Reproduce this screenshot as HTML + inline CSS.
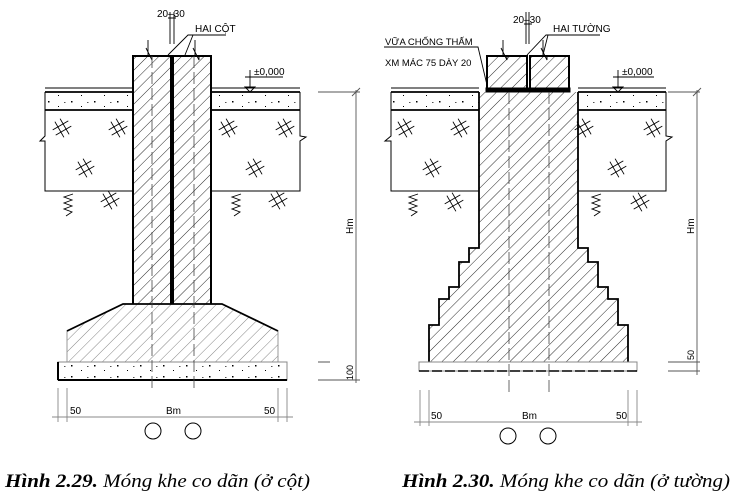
<!DOCTYPE html>
<html><head><meta charset="utf-8"><style>
html,body{margin:0;padding:0;background:#fff;width:742px;height:503px;overflow:hidden}
svg{display:block}
text{font-family:"Liberation Sans",sans-serif;fill:#000}
.cap{font-family:"Liberation Serif",serif;font-style:italic;font-size:19px}
</style></head><body>
<svg width="742" height="503" viewBox="0 0 742 503" xmlns="http://www.w3.org/2000/svg">
<defs>
<pattern id="h" width="8" height="8" patternUnits="userSpaceOnUse" patternTransform="rotate(45)">
<line x1="0" y1="0" x2="0" y2="8" stroke="#111" stroke-width="0.9"/></pattern>
<pattern id="hl" width="8" height="8" patternUnits="userSpaceOnUse" patternTransform="rotate(45)">
<line x1="0" y1="0" x2="0" y2="8" stroke="#666" stroke-width="0.8"/></pattern>
<pattern id="dots" width="23" height="11" patternUnits="userSpaceOnUse">
<rect x="2" y="2" width="1.5" height="1.5" fill="#000"/><rect x="12" y="7" width="1" height="1" fill="#000"/><rect x="18" y="3" width="1.5" height="1" fill="#555"/></pattern>
<g id="x"><g stroke="#000" stroke-width="0.9" transform="rotate(-30)">
<line x1="-9" y1="-3" x2="9" y2="-3"/><line x1="-9" y1="3" x2="9" y2="3"/>
<line x1="-3" y1="-9" x2="-3" y2="9"/><line x1="3" y1="-9" x2="3" y2="9"/></g></g>
<path id="s" d="M5 0 L-4 3 L4 6 L-4 9 L4 12 L-4 15 L4 18 L-2 22" fill="none" stroke="#000" stroke-width="0.9"/>
</defs>

<!-- ===== LEFT FIGURE ===== -->
<g stroke="#000" fill="none">
<rect x="45" y="92" width="87" height="18" fill="url(#dots)" stroke="none"/>
<line x1="45" y1="88" x2="132" y2="88"/>
<line x1="45" y1="92" x2="132" y2="92" stroke-width="1.8"/>
<line x1="45" y1="110" x2="132" y2="110" stroke-width="1.8"/>
<path d="M45 92 V136 L40 141 H45 V191 H132"/>
<rect x="212" y="92" width="88" height="18" fill="url(#dots)" stroke="none"/>
<line x1="212" y1="88" x2="300" y2="88"/>
<line x1="212" y1="92" x2="300" y2="92" stroke-width="1.8"/>
<line x1="212" y1="110" x2="300" y2="110" stroke-width="1.8"/>
<path d="M300 92 V136 L306 137 L300 141 V191 H212"/>
</g>
<use href="#x" x="62" y="128"/><use href="#x" x="118" y="128"/><use href="#x" x="85" y="168"/><use href="#x" x="110" y="200"/>
<use href="#x" x="228" y="128"/><use href="#x" x="285" y="128"/><use href="#x" x="255" y="168"/><use href="#x" x="278" y="200"/>
<use href="#s" x="68" y="194"/><use href="#s" x="236" y="194"/>
<rect x="132" y="56" width="39" height="248" fill="url(#h)"/>
<rect x="174" y="56" width="38" height="248" fill="url(#h)"/>
<g stroke="#000" fill="none">
<path d="M133 304 V56 H171 V304" stroke-width="2"/>
<path d="M173 304 V56 H211 V304" stroke-width="2"/>
<path d="M148 40 V57 M146 48 L152 60 L152 55 M195 40 V57 M193 48 L199 60 L199 55" stroke-width="0.9"/>
<path d="M123 304 H222 L278 331 V362 H67 V331 Z" fill="url(#hl)" stroke="#999"/>
<path d="M67 331 L123 304 H222 L278 331" stroke-width="1.8"/>
<rect x="58" y="362" width="229" height="18" fill="url(#dots)" stroke="#888"/>
<line x1="58" y1="380" x2="287" y2="380" stroke-width="2"/>
<line x1="58" y1="362" x2="58" y2="380" stroke-width="2"/>
<path d="M152 56 V392 M194 56 V392" stroke="#444" stroke-width="0.8" stroke-dasharray="12 4"/>
<path d="M170 12 V44 M174 12 V44 M168 18 H176" stroke-width="0.9"/>
<path d="M168 55 L188 35 H226 M185 55 L193 35" stroke-width="0.9"/>
<path d="M250 70 V87 M245 77 H283 M245 87 L250 92 L255 87 Z" stroke-width="0.9"/>
<path d="M318 92 H360 M356 90 V383 M318 362 H330 M318 380 H360 M352 96 L360 88" stroke="#555" stroke-width="0.9"/>
<path d="M58 388 V422 M67 388 V422 M278 388 V422 M287 388 V422 M52 417 H293" stroke="#888" stroke-width="0.9"/>
<circle cx="153" cy="431" r="8"/><circle cx="193" cy="431" r="8"/>
</g>
<text x="157" y="17" font-size="10">20–30</text>
<text x="195" y="32" font-size="10">HAI CỘT</text>
<text x="254" y="75" font-size="10">±0,000</text>
<text x="70" y="414" font-size="10" fill="#666">50</text>
<text x="166" y="414" font-size="10" fill="#666">Bm</text>
<text x="264" y="414" font-size="10" fill="#666">50</text>
<text transform="translate(353,234) rotate(-90)" font-size="10">Hm</text>
<text transform="translate(353,380) rotate(-90)" font-size="9">100</text>
<text class="cap" x="5" y="487" textLength="305" lengthAdjust="spacingAndGlyphs"><tspan font-weight="bold">Hình 2.29.</tspan> Móng khe co dãn (ở cột)</text>

<!-- ===== RIGHT FIGURE ===== -->
<g stroke="#000" fill="none">
<rect x="391" y="92" width="88" height="18" fill="url(#dots)" stroke="none"/>
<line x1="391" y1="88" x2="479" y2="88"/>
<line x1="391" y1="92" x2="479" y2="92" stroke-width="1.8"/>
<line x1="391" y1="110" x2="479" y2="110" stroke-width="1.8"/>
<path d="M391 92 V136 L385 141 H391 V191 H479"/>
<rect x="578" y="92" width="88" height="18" fill="url(#dots)" stroke="none"/>
<line x1="578" y1="88" x2="666" y2="88"/>
<line x1="578" y1="92" x2="666" y2="92" stroke-width="1.8"/>
<line x1="578" y1="110" x2="666" y2="110" stroke-width="1.8"/>
<path d="M666 92 V136 L672 137 L666 141 V191 H578"/>
</g>
<use href="#x" x="405" y="128"/><use href="#x" x="460" y="128"/><use href="#x" x="432" y="168"/><use href="#x" x="454" y="202"/>
<use href="#x" x="584" y="128"/><use href="#x" x="653" y="128"/><use href="#x" x="617" y="168"/><use href="#x" x="640" y="202"/>
<use href="#s" x="413" y="194"/><use href="#s" x="596" y="194"/>
<rect x="487" y="56" width="40" height="33" fill="url(#h)"/>
<rect x="530" y="56" width="39" height="33" fill="url(#h)"/>
<g stroke="#000" fill="none">
<path d="M487 89 V56 H527 V89 M530 89 V56 H569 V89" stroke-width="2"/>
<rect x="486" y="88" width="84" height="4" fill="#000"/>
<path d="M503 40 V57 M501 48 L507 60 L507 55 M543 40 V57 M541 48 L547 60 L547 55" stroke-width="0.9"/>
</g>
<path d="M479 92 H578 V248 H588 V262 H598 V287 H608 V299 H618 V325 H628 V362 H429 V325 H439 V299 H449 V287 H459 V262 H469 V248 H479 Z" fill="url(#h)" stroke="none"/>
<g stroke="#000" fill="none">
<path d="M479 92 V248 H469 V262 H459 V287 H449 V299 H439 V325 H429 V362" stroke-width="1.8"/>
<path d="M578 92 V248 H588 V262 H598 V287 H608 V299 H618 V325 H628 V362" stroke-width="1.8"/>
<rect x="419" y="362" width="218" height="9" stroke="#888"/>
<line x1="419" y1="371" x2="637" y2="371" stroke-width="1.6" stroke-dasharray="10 3"/>
<path d="M509 92 V392 M549 92 V392" stroke="#444" stroke-width="0.8" stroke-dasharray="12 4"/>
<path d="M526 12 V44 M529 12 V44 M524 24 H532" stroke-width="0.9"/>
<path d="M527 55 L546 35 H600 M543 55 L548 35" stroke-width="0.9"/>
<path d="M384 47 H478 L487 85" stroke-width="0.9"/>
<path d="M618 70 V87 M613 77 H654 M613 87 L618 92 L623 87 Z" stroke-width="0.9"/>
<path d="M668 92 H700 M697 90 V375 M668 362 H700 M668 371 H700 M693 96 L701 88" stroke="#555" stroke-width="0.9"/>
<path d="M420 390 V426 M429 390 V426 M628 390 V426 M637 390 V426 M414 422 H642" stroke="#888" stroke-width="0.9"/>
<circle cx="508" cy="436" r="8"/><circle cx="548" cy="436" r="8"/>
</g>
<text x="513" y="23" font-size="10">20–30</text>
<text x="553" y="32" font-size="10">HAI TƯỜNG</text>
<text x="385" y="45" font-size="9.5">VỮA CHỐNG THẤM</text>
<text x="385" y="66" font-size="9.5">XM MÁC 75 DÀY 20</text>
<text x="622" y="75" font-size="10">±0,000</text>
<text x="431" y="419" font-size="10" fill="#666">50</text>
<text x="522" y="419" font-size="10" fill="#666">Bm</text>
<text x="616" y="419" font-size="10" fill="#666">50</text>
<text transform="translate(694,234) rotate(-90)" font-size="10">Hm</text>
<text transform="translate(694,360) rotate(-90)" font-size="9">50</text>
<text class="cap" x="402" y="487" textLength="328" lengthAdjust="spacingAndGlyphs"><tspan font-weight="bold">Hình 2.30.</tspan> Móng khe co dãn (ở tường)</text>
</svg>
</body></html>
